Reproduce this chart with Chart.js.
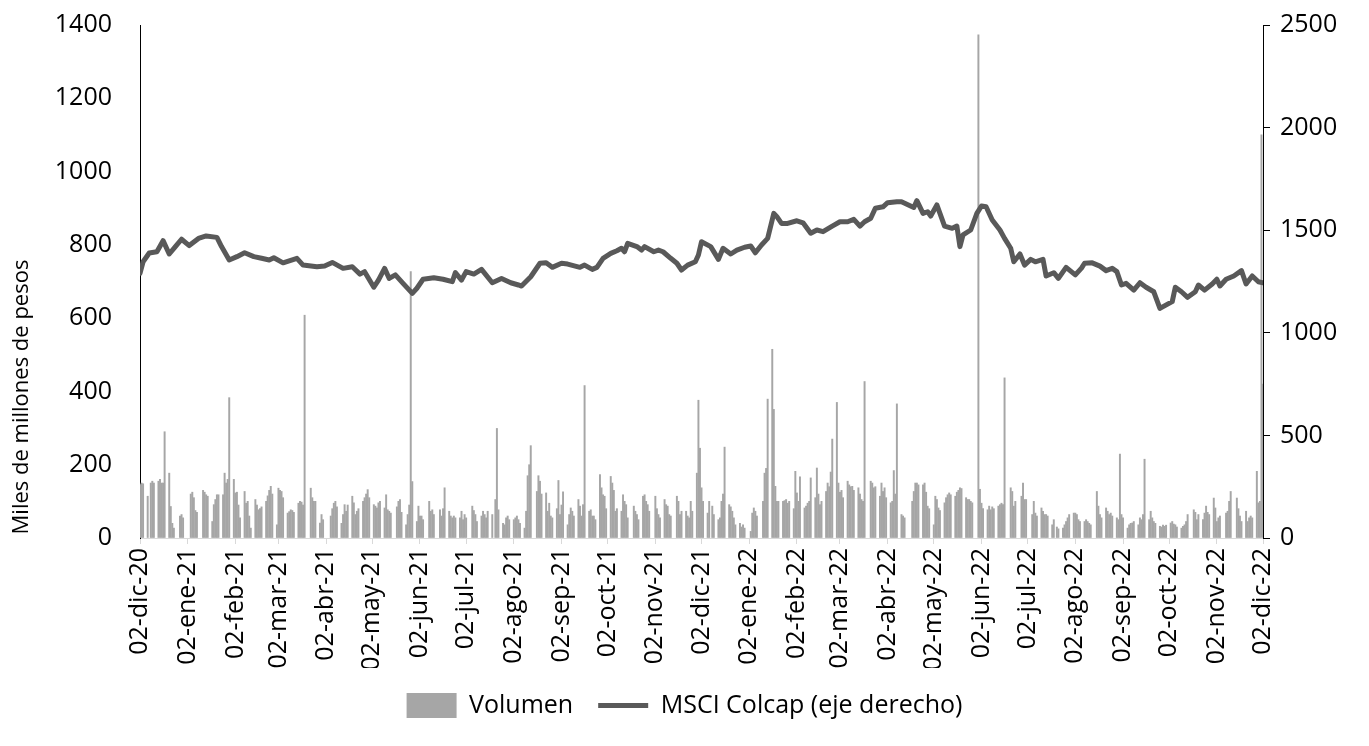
<!DOCTYPE html>
<html><head><meta charset="utf-8">
<script src="https://cdn.jsdelivr.net/npm/chart.js@4.4.1/dist/chart.umd.min.js"></script>
<style>html,body{margin:0;padding:0;background:#fff;}#wrap{width:1369px;height:746px;}</style>
</head><body><div id="wrap"><canvas id="c" width="1369" height="746"></canvas></div>
<script>
// Etiquetas del eje X (meses)
const tickLabels = ['02-dic-20','02-ene-21','02-feb-21','02-mar-21','02-abr-21','02-may-21','02-jun-21','02-jul-21','02-ago-21','02-sep-21','02-oct-21','02-nov-21','02-dic-21','02-ene-22','02-feb-22','02-mar-22','02-abr-22','02-may-22','02-jun-22','02-jul-22','02-ago-22','02-sep-22','02-oct-22','02-nov-22','02-dic-22'];

// Volumen (miles de millones de pesos): un valor por día hábil (lun-vie) desde 02-dic-20; null = festivo
const volume = [
 146,150,148,
 114,null,150,155,150,  155,160,150,150,290,  177,86,40,27,null,  60,64,55,null,null,
 120,125,110,75,70,  null,130,125,118,114,  45,91,105,118,118,  118,177,150,160,383,
 160,123,125,90,55,  127,95,100,60,27,  105,90,77,80,85,  100,115,130,141,120,
 36,136,130,127,110,  68,72,77,75,70,  95,100,98,90,608,  null,136,110,100,100,
 41,64,50,null,null,  60,80,95,100,85,  40,64,91,73,90,  114,96,64,73,80,
 100,110,120,132,110,  91,87,82,96,100,  82,118,77,73,68,  null,85,100,105,70,
 36,64,90,727,154,  45,87,60,60,50,  null,100,73,77,64,  null,77,60,80,137,
 73,60,55,60,55,  55,73,50,64,55,  null,87,75,64,45,  60,73,64,55,73,
 64,null,105,299,77,  40,36,55,60,50,  50,55,60,50,40,  27,73,170,200,252,
 null,127,170,155,120,  123,73,95,60,55,  80,157,64,90,126,  36,64,82,73,60,
 105,87,60,91,416,  73,77,60,60,50,  173,137,118,114,80,  168,150,130,73,80,
 73,118,100,91,55,  null,87,73,64,50,  114,118,100,91,73,  null,114,80,64,55,
 105,91,87,64,60,  null,114,100,64,73,  73,60,55,100,73,  177,376,245,137,100,
 68,100,null,87,64,  50,55,100,120,248,  91,85,73,55,36,  40,30,36,27,null,
 18,68,82,73,60,  null,100,177,190,379,  515,351,141,100,100,  100,102,105,95,100,
 80,182,123,100,167,  82,87,95,100,164,  110,191,120,91,100,  127,150,140,180,270,
 370,150,125,130,110,  155,145,140,141,130,  137,120,105,100,427,  null,155,150,137,140,
 114,150,127,137,110,  96,100,184,120,366,  64,60,55,null,null,  100,127,150,150,145,
 145,150,125,87,80,  36,114,105,82,75,  96,110,118,123,118,  114,125,130,137,135,
 110,105,105,100,96,  null,1373,133,95,80,  77,87,77,85,80,  87,91,95,91,437,
 null,137,127,87,100,  null,114,150,105,105,  null,64,100,68,60,  82,73,64,64,60,
 36,50,null,30,25,  27,36,45,55,64,  68,68,64,50,45,  45,50,45,40,36,
 null,127,87,64,55,  82,73,64,68,60,  55,50,229,64,55,  27,36,40,41,45,
 36,55,50,64,215,  50,73,55,45,40,  32,30,35,32,35,  41,45,38,36,30,
 27,32,36,45,64,  null,77,70,50,64,  50,68,87,70,64,  109,82,45,55,60,
 null,68,73,100,127,  null,109,80,60,45,  73,45,55,60,55,  182,96,100,1100,420
];

// MSCI Colcap: días transcurridos desde 02-dic-20 y valor del índice
const colcapDay = [
 0,2,6,11,15,19,23,27,32,38,
 43,50,53,58,63,68,74,79,84,87,
 93,102,106,115,120,125,132,138,143,146,
 152,155,159,162,166,171,177,180,184,191,
 197,203,205,209,212,217,222,229,235,241,
 246,248,254,260,264,268,274,278,286,289,
 294,297,301,306,310,313,315,317,323,326,
 328,334,337,340,345,349,352,356,361,363,
 365,371,376,379,384,388,393,397,400,404,
 408,412,414,417,421,427,431,436,440,444,
 450,455,460,464,468,471,475,478,483,486,
 492,495,503,505,509,512,514,518,523,528,
 531,533,535,540,544,547,550,554,559,562,
 566,568,572,575,579,582,587,589,594,597,
 602,608,612,614,619,624,628,632,635,638,
 641,646,650,654,659,663,668,671,673,677,
 681,686,688,692,697,700,702,706,711,716,
 719,723,727,730
];
const colcapValue = [
 1290,1346,1389,1395,1449,1384,1420,1456,1425,1460,
 1472,1465,1420,1355,1371,1390,1371,1363,1355,1366,
 1341,1363,1330,1322,1326,1343,1314,1322,1286,1298,
 1222,1257,1314,1265,1282,1241,1192,1217,1261,1268,
 1261,1249,1293,1257,1298,1286,1309,1244,1265,1244,
 1233,1228,1273,1339,1341,1319,1339,1335,1319,1330,
 1309,1319,1363,1387,1400,1412,1395,1436,1420,1403,
 1420,1395,1403,1395,1363,1339,1306,1330,1346,1379,
 1444,1420,1358,1412,1384,1403,1417,1423,1390,1428,
 1460,1582,1566,1533,1533,1546,1536,1485,1501,1493,
 1520,1541,1541,1553,1520,1541,1558,1607,1614,1634,
 1639,1639,1611,1644,1582,1590,1569,1623,1520,1509,
 1520,1420,1477,1501,1582,1618,1614,1550,1501,1460,
 1412,1346,1384,1330,1358,1346,1358,1277,1293,1265,
 1319,1282,1315,1339,1341,1325,1303,1314,1298,1233,
 1241,1208,1244,1222,1200,1119,1140,1152,1222,1200,
 1173,1200,1233,1208,1238,1261,1228,1261,1277,1303,
 1238,1277,1249,1244
];

const axisTitle = 'Miles de millones de pesos';
const seriesNames = ['Volumen', 'MSCI Colcap (eje derecho)'];

// ---- construcción ----
const MES = {ene:0,feb:1,mar:2,abr:3,may:4,jun:5,jul:6,ago:7,sep:8,oct:9,nov:10,dic:11};
const DAY = 86400000;
function parseLabel(l){ const p = l.split('-'); return Date.UTC(2000 + Number(p[2]), MES[p[1]], Number(p[0])); }
const t0 = parseLabel(tickLabels[0]);
const tickDays = tickLabels.map(l => (parseLabel(l) - t0) / DAY);
const lastDay = tickDays[tickDays.length - 1];

const volPoints = [];
let k = 0;
for (let d = 0; d <= lastDay; d++) {
  const wd = new Date(t0 + d * DAY).getUTCDay();
  if (wd === 0 || wd === 6) continue;
  const v = volume[k++];
  if (v !== null && v !== undefined) volPoints.push({x: d, y: v});
}
const linePoints = colcapDay.map((d, i) => ({x: d, y: colcapValue[i]}));

const FONT = "'Open Sans', 'DejaVu Sans', sans-serif";
Chart.defaults.font.family = FONT;
Chart.defaults.font.size = 25;
Chart.defaults.color = '#000';

const titlePlugin = {
  id: 'leftTitle',
  afterDraw(chart) {
    const c = chart.ctx;
    c.save();
    c.translate(22, 397);
    c.rotate(-Math.PI / 2);
    c.font = "22px " + FONT;
    c.fillStyle = '#000';
    c.textAlign = 'center';
    c.textBaseline = 'middle';
    c.fillText(axisTitle, 0, 0);
    c.restore();
  }
};

new Chart(document.getElementById('c'), {
  data: {
    datasets: [
      {type: 'bar', label: seriesNames[0], data: volPoints, xAxisID: 'x', yAxisID: 'y',
       backgroundColor: '#A6A6A6', borderWidth: 0, barThickness: 1.3, order: 2},
      {type: 'line', label: seriesNames[1], data: linePoints, xAxisID: 'x', yAxisID: 'y1',
       borderColor: '#595959', backgroundColor: '#595959', borderWidth: 5, pointRadius: 0,
       tension: 0, borderJoinStyle: 'round', borderCapStyle: 'round', order: 1}
    ]
  },
  options: {
    responsive: false, animation: false, devicePixelRatio: 1,
    layout: {padding: {top: 25, bottom: 18, left: 0, right: 0}},
    plugins: {
      tooltip: {enabled: false},
      legend: {
        position: 'bottom',
        labels: {
          usePointStyle: true, pointStyleWidth: 50, boxWidth: 50, boxHeight: 25, padding: 25,
          font: {family: FONT, size: 25}, color: '#000',
          generateLabels(chart) {
            const items = Chart.defaults.plugins.legend.labels.generateLabels(chart);
            items.sort((a, b) => a.datasetIndex - b.datasetIndex);
            items.forEach(it => {
              if (it.datasetIndex === 0) { it.pointStyle = 'rect'; it.fillStyle = '#A6A6A6'; it.lineWidth = 0; }
              else { it.pointStyle = 'line'; it.strokeStyle = '#595959'; it.lineWidth = 5; }
            });
            return items;
          }
        }
      }
    },
    scales: {
      x: {
        type: 'linear', min: 0, max: lastDay, offset: false,
        afterBuildTicks: s => { s.ticks = tickDays.map(v => ({value: v})); },
        afterFit: s => { s.height = 130; },
        ticks: {autoSkip: false, minRotation: 90, maxRotation: 90, padding: 4, color: '#000',
                callback: (v, i) => tickLabels[i]},
        grid: {drawOnChartArea: false, drawTicks: true, tickLength: 6, color: '#D9D9D9', offset: false},
        border: {color: '#D9D9D9', width: 1}
      },
      y: {
        position: 'left', min: 0, max: 1400,
        afterFit: s => { s.width = 140; },
        ticks: {stepSize: 200, padding: 2, color: '#000', callback: v => String(v)},
        grid: {drawOnChartArea: false, drawTicks: true, tickLength: 26, color: 'rgba(0,0,0,0)'},
        border: {color: '#000', width: 1}
      },
      y1: {
        position: 'right', min: 0, max: 2500,
        afterFit: s => { s.width = 106; },
        ticks: {stepSize: 500, padding: 10, color: '#000', callback: v => String(v)},
        grid: {drawOnChartArea: false, drawTicks: true, tickLength: 7, color: '#000'},
        border: {color: '#000', width: 1}
      }
    }
  },
  plugins: [titlePlugin]
});
</script></body></html>
